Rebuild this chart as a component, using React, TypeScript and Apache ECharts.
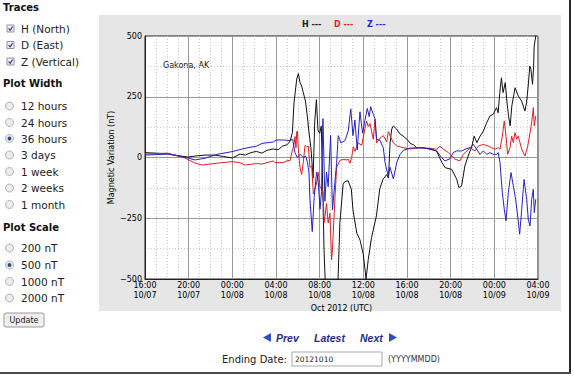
import React, { useEffect, useRef } from "react";
import * as echarts from "echarts";

// Hours since 16:00 10/07 (UTC), magnetic variation in nT
const H_TRACE: [number, number][] = [
  [0, 20], [1.0, 18], [2.1, 15], [3.0, 8], [3.9, 2], [4.6, 6], [5.5, 10], [6.4, 10], [7.2, 4], [8.0, -2],
  [8.7, 14], [9.2, 10], [9.7, 20], [10.2, 25], [10.7, 18], [11.2, 30], [11.7, 35], [12.2, 32], [12.6, 47],
  [13.0, 52], [13.3, 68], [13.5, 102], [13.65, 225], [13.9, 323], [14.05, 345], [14.2, 308], [14.35, 294],
  [14.5, 267], [14.7, 232], [14.9, 158], [15.0, 110], [15.2, 40], [15.4, -85], [15.55, 150], [15.7, 238],
  [15.85, 110], [16.0, 100], [16.15, 130], [16.25, -60], [16.4, -380], [16.55, -560], [17.1, -700],
  [17.6, -620], [17.85, -268], [18.15, -110], [18.3, -100], [18.6, -95], [18.9, -130], [19.05, -216],
  [19.4, -311], [19.7, -340], [20.0, -400], [20.25, -500], [20.45, -420], [20.75, -330], [21.2, -240],
  [21.5, -130], [21.8, -90], [22.15, -70], [22.3, -85], [22.45, 60], [22.6, 117], [22.75, 130],
  [23.05, 117], [23.35, 97], [23.65, 88], [24.0, 75], [24.3, 58], [24.6, 52], [24.9, 40], [25.5, 40],
  [26.1, 34], [26.7, 27], [27.2, -21], [27.5, -42], [28.1, -49], [28.55, -89], [28.75, -124], [29.0, -117],
  [29.15, -76], [29.3, -35], [29.6, 6], [29.95, 47], [30.15, 88], [30.4, 61], [30.7, 88], [31.0, 109],
  [31.3, 143], [31.6, 171], [31.9, 178], [32.2, 205], [32.35, 184], [32.5, 267], [32.65, 328], [32.8, 267],
  [33.0, 308], [33.15, 232], [33.3, 171], [33.45, 130], [33.6, 212], [33.9, 287], [34.2, 253], [34.5, 232],
  [34.8, 191], [34.95, 225], [35.1, 294], [35.25, 376], [35.35, 363], [35.5, 301], [35.6, 376],
  [35.65, 459], [35.8, 500], [35.9, 560],
];

const D_TRACE: [number, number][] = [
  [0, 14], [2.1, 18], [3.66, -2], [4.58, -23], [5.22, -31], [6.69, -23], [7.97, -17], [8.7, -21],
  [9.16, -31], [10.23, -25], [10.72, -27], [11.75, -14], [11.9, -21], [12.64, -21], [13.1, -12],
  [13.28, -14], [13.44, 18], [13.53, 34], [13.68, 61], [13.74, 86], [13.83, 40], [13.9, 106], [13.96, 109],
  [14.05, 31], [14.2, -42], [14.35, -70], [14.5, -20], [14.66, 50], [14.8, 44], [14.96, 47], [15.11, -40],
  [15.27, -35], [15.42, -150], [15.57, -130], [15.72, -105], [15.87, -60], [16.03, -120], [16.17, -130],
  [16.32, -146], [16.41, -268], [16.48, -244], [16.63, -189], [16.78, -270], [16.94, -230], [17.09, -422],
  [17.17, -380], [17.4, -165], [17.56, -40], [17.86, -12], [18.16, -8], [18.48, -10], [18.62, -7],
  [18.77, -24], [18.93, 0], [19.08, 44], [19.23, 25], [19.54, 60], [19.85, 50], [20.15, 120], [20.3, 150],
  [20.45, 127], [20.61, 140], [20.91, 75], [21.07, 157], [21.22, 60], [21.53, 80], [21.83, 90],
  [22.14, 65], [22.29, 106], [22.44, 90], [22.75, 60], [23.06, 48], [23.66, 40], [24.27, 35], [25.19, 40],
  [26.11, 38], [26.72, 34], [27.02, 47], [27.33, 34], [27.79, 20], [28.4, -7], [28.85, -14], [29.16, 13],
  [29.77, 40], [30.23, 27], [30.53, 47], [30.99, 54], [31.45, 47], [31.76, 40], [32.06, 34], [32.36, 40],
  [32.52, 34], [32.73, 88], [32.91, 150], [33.07, 88], [33.22, 13], [33.43, 40], [33.59, 88], [33.74, 61],
  [33.89, 102], [34.05, 75], [34.19, 88], [34.35, 61], [34.51, 34], [34.81, 6], [35.06, 47], [35.27, 102],
  [35.42, 143], [35.57, 205], [35.66, 130], [35.79, 171],
];

const Z_TRACE: [number, number][] = [
  [0, 10], [2.1, 14], [3.66, 1], [4.58, -10], [5.5, -3], [6.69, 14], [7.97, 24], [9.16, 38], [10.23, 47],
  [10.72, 58], [11.75, 64], [12.0, 72], [12.64, 72], [13.28, 70], [13.53, 75], [13.74, 20], [13.96, -1],
  [14.2, 13], [14.5, 0], [14.72, 6], [14.88, -20], [15.02, -60], [15.11, -172], [15.32, -305],
  [15.5, -160], [15.72, -60], [15.87, -100], [16.03, -213], [16.17, -140], [16.3, 160], [16.48, -180],
  [16.63, -60], [16.78, -120], [17.0, 90], [17.17, -215], [17.4, -100], [17.55, -24], [17.7, 90],
  [17.95, 60], [18.32, 70], [18.62, 110], [18.85, 200], [19.05, 90], [19.23, 154], [19.44, 31],
  [19.69, 188], [19.93, 100], [20.15, 154], [20.36, 202], [20.54, 168], [20.67, 209], [20.91, 178],
  [21.07, 160], [21.22, 75], [21.53, 70], [21.83, 40], [21.99, -21], [22.29, -80], [22.44, -40],
  [22.75, -88], [23.06, -21], [23.36, 12], [23.66, 29], [24.27, 39], [25.19, 40], [26.11, 36], [26.72, 27],
  [27.18, -1], [27.48, -14], [27.94, -5], [28.24, 20], [28.55, 27], [29.01, 27], [29.31, 34], [29.77, 40],
  [30.08, 54], [30.38, 34], [30.69, 13], [30.99, 27], [31.3, 13], [31.6, 20], [31.9, 13], [32.22, 13],
  [32.36, 20], [32.52, -21], [32.73, -145], [32.91, -213], [33.07, -261], [33.28, -145], [33.53, -62],
  [33.74, -117], [33.95, -172], [34.14, -241], [34.32, -316], [34.51, -213], [34.72, -90], [34.96, -172],
  [35.11, -254], [35.27, -282], [35.42, -172], [35.57, -131], [35.66, -227], [35.79, -172],
];

const X_TICK_LABELS = [
  "16:00\n10/07", "20:00\n10/07", "00:00\n10/08", "04:00\n10/08", "08:00\n10/08",
  "12:00\n10/08", "16:00\n10/08", "20:00\n10/08", "00:00\n10/09", "04:00\n10/09",
];

const TRACE_OPTIONS = ["H (North)", "D (East)", "Z (Vertical)"];
const WIDTH_OPTIONS = ["12 hours", "24 hours", "36 hours", "3 days", "1 week", "2 weeks", "1 month"];
const SCALE_OPTIONS = ["200 nT", "500 nT", "1000 nT", "2000 nT"];

const FONT = "DejaVu Sans";

function buildForm(): any[] {
  const els: any[] = [];
  const header = (t: string, y: number) => ({
    type: "text", x: 3, y,
    style: { text: t, fill: "#111", fontFamily: FONT, fontSize: 10, fontWeight: "bold", verticalAlign: "middle" },
  });
  const label = (t: string, y: number) => ({
    type: "text", x: 21, y,
    style: { text: t, fill: "#222", fontFamily: FONT, fontSize: 10.5, verticalAlign: "middle" },
  });
  els.push(header("Traces", 7));
  const traceY = [28.5, 45, 61.5];
  TRACE_OPTIONS.forEach((t, i) => {
    const y = traceY[i];
    els.push({ type: "rect", shape: { x: 7, y: y - 3.5, width: 7, height: 7 }, style: { fill: "#f2f2f4", stroke: "#8d90a8", lineWidth: 1 } });
    els.push({ type: "polyline", shape: { points: [[8.6, y - 0.2], [10.2, y + 1.8], [12.6, y - 2]] }, style: { stroke: "#3b4b82", lineWidth: 1.3, fill: null } });
    els.push(label(t, y));
  });
  els.push(header("Plot Width", 83));
  const widthY = [106, 122.5, 138.5, 155, 171.5, 188, 204.5];
  WIDTH_OPTIONS.forEach((t, i) => {
    const y = widthY[i];
    els.push({ type: "circle", shape: { cx: 9.5, cy: y, r: 4 }, style: { fill: "#ececec", stroke: "#b0b0b0", lineWidth: 1 } });
    if (i === 2) els.push({ type: "circle", shape: { cx: 9.5, cy: y, r: 1.9 }, style: { fill: "#2c4a86" } });
    els.push(label(t, y));
  });
  els.push(header("Plot Scale", 227));
  const scaleY = [248, 265, 281.5, 298];
  SCALE_OPTIONS.forEach((t, i) => {
    const y = scaleY[i];
    els.push({ type: "circle", shape: { cx: 9.5, cy: y, r: 4 }, style: { fill: "#ececec", stroke: "#b0b0b0", lineWidth: 1 } });
    if (i === 1) els.push({ type: "circle", shape: { cx: 9.5, cy: y, r: 1.9 }, style: { fill: "#2c4a86" } });
    els.push(label(t, y));
  });
  els.push({ type: "rect", shape: { x: 4, y: 313, width: 40, height: 14, r: 2 }, style: { fill: "#eeeeee", stroke: "#9a9a9a", lineWidth: 1 } });
  els.push({ type: "text", x: 24, y: 320, style: { text: "Update", fill: "#222", fontFamily: FONT, fontSize: 8, align: "center", verticalAlign: "middle" } });
  return els;
}

function buildNav(): any[] {
  const navColor = "#1f2c8f";
  const navFont = { fontFamily: "Liberation Sans", fontSize: 10.5, fontWeight: "bold", fontStyle: "italic", fill: navColor, verticalAlign: "middle" };
  return [
    { type: "polygon", shape: { points: [[263, 337.5], [271, 333], [271, 342]] }, style: { fill: "#2b4fc9" } },
    { type: "text", x: 276, y: 337.5, style: { text: "Prev", ...navFont } },
    { type: "text", x: 314, y: 337.5, style: { text: "Latest", ...navFont } },
    { type: "text", x: 360, y: 337.5, style: { text: "Next", ...navFont } },
    { type: "polygon", shape: { points: [[389, 333], [397, 337.5], [389, 342]] }, style: { fill: "#2b4fc9" } },
    { type: "text", x: 222, y: 359, style: { text: "Ending Date:", fill: "#222", fontFamily: FONT, fontSize: 10, verticalAlign: "middle" } },
    { type: "rect", shape: { x: 292, y: 352, width: 90, height: 14 }, style: { fill: "#fff", stroke: "#a8a8a8", lineWidth: 1 } },
    { type: "text", x: 295, y: 359.5, style: { text: "20121010", fill: "#222", fontFamily: FONT, fontSize: 7.5, verticalAlign: "middle" } },
    { type: "text", x: 388, y: 359, style: { text: "(YYYYMMDD)", fill: "#333", fontFamily: FONT, fontSize: 8, verticalAlign: "middle" } },
    { type: "rect", shape: { x: 569, y: 0, width: 2, height: 374 }, style: { fill: "#2a2a2a" } },
    { type: "rect", shape: { x: 0, y: 372, width: 571, height: 2 }, style: { fill: "#4a4a4a" } },
  ];
}

function buildLegend(): any[] {
  const base = { fontFamily: FONT, fontSize: 8, fontWeight: "bold", verticalAlign: "middle" };
  return [
    { type: "text", x: 302, y: 24, style: { text: "H ---", fill: "#222", ...base } },
    { type: "text", x: 334, y: 24, style: { text: "D ---", fill: "#dd2222", ...base } },
    { type: "text", x: 367, y: 24, style: { text: "Z ---", fill: "#2828c0", ...base } },
    { type: "text", x: 163, y: 65, style: { text: "Gakona, AK", fill: "#111", fontFamily: FONT, fontSize: 8, verticalAlign: "middle" } },
  ];
}

export default function App() {
  const ref = useRef<HTMLDivElement>(null);
  useEffect(() => {
    if (!ref.current) return;
    const chart = echarts.init(ref.current, undefined, { renderer: "svg" });
    const axisText = { color: "#000", fontFamily: FONT, fontSize: 8 };
    chart.setOption({
      animation: false,
      backgroundColor: "transparent",
      grid: {
        left: 145, top: 36, width: 393, height: 243,
        show: true, backgroundColor: "#ffffff", borderColor: "#222", borderWidth: 1,
      },
      xAxis: {
        type: "value", min: 0, max: 36, interval: 4,
        name: "Oct 2012 (UTC)", nameLocation: "middle", nameGap: 25, nameMoveOverlap: false,
        nameTextStyle: { ...axisText },
        axisLine: { show: true, onZero: false, lineStyle: { color: "#222" } },
        axisTick: { show: false },
        axisLabel: {
          ...axisText, margin: 1, lineHeight: 10,
          formatter: (v: number) => X_TICK_LABELS[Math.round(v / 4)] ?? "",
        },
        splitLine: { show: true, lineStyle: { color: "#999", width: 1 } },
        minorTick: { show: false, splitNumber: 4 },
        minorSplitLine: { show: true, lineStyle: { color: "#c8c8c8", type: [1, 2], width: 1 } },
      },
      yAxis: {
        type: "value", min: -500, max: 500, interval: 250,
        name: "Magnetic Variation (nT)", nameLocation: "middle", nameGap: 30, nameMoveOverlap: false,
        nameTextStyle: { ...axisText },
        axisLine: { show: true, onZero: false, lineStyle: { color: "#222" } },
        axisTick: { show: false },
        axisLabel: {
          ...axisText, margin: 3,
          formatter: (v: number) => (v < 0 ? "\u2212" + Math.abs(v) : String(v)),
        },
        splitLine: { show: true, lineStyle: { color: "#999", width: 1 } },
        minorTick: { show: false, splitNumber: 2 },
        minorSplitLine: { show: true, lineStyle: { color: "#c8c8c8", type: [1, 2], width: 1 } },
      },
      series: [
        { name: "H", type: "line", data: H_TRACE, symbol: "none", clip: true, lineStyle: { color: "#111", width: 1 }, itemStyle: { color: "#111" } },
        { name: "D", type: "line", data: D_TRACE, symbol: "none", clip: true, lineStyle: { color: "#e02020", width: 1 }, itemStyle: { color: "#e02020" } },
        { name: "Z", type: "line", data: Z_TRACE, symbol: "none", clip: true, lineStyle: { color: "#2323c8", width: 1 }, itemStyle: { color: "#2323c8" } },
      ],
      graphic: [...buildForm(), ...buildNav(), ...buildLegend()],
    });
    return () => chart.dispose();
  }, []);
  return (
    <div style={{ position: "absolute", left: 0, top: 0, width: 574, height: 377, background: "#fff" }}>
      <div style={{ position: "absolute", left: 99, top: 15, width: 462, height: 296, background: "#e6e6e6" }} />
      <div ref={ref} style={{ position: "absolute", left: 0, top: 0, width: 574, height: 377 }} />
    </div>
  );
}
